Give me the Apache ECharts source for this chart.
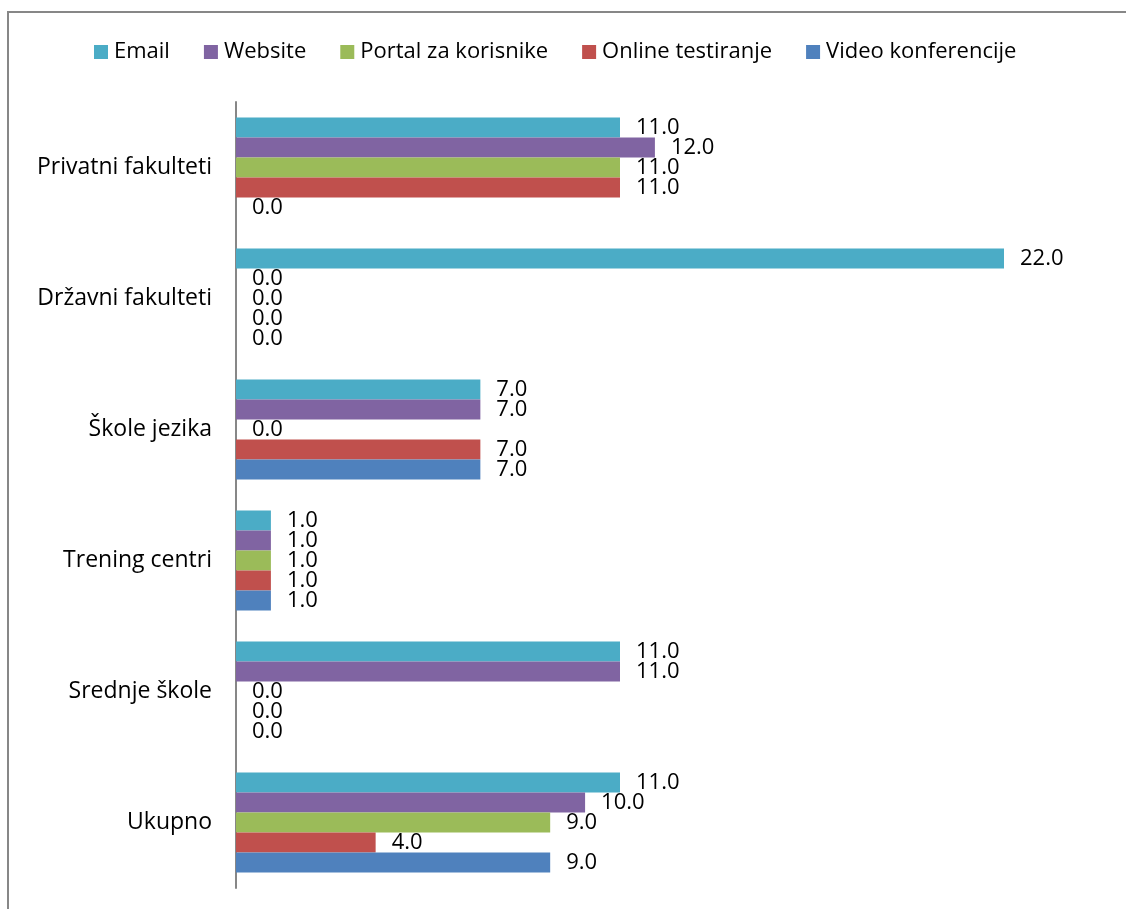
<!DOCTYPE html>
<html>
<head>
<meta charset="utf-8">
<script src="https://cdn.jsdelivr.net/npm/echarts@6/dist/echarts.min.js"></script>
<style>
  body { margin: 0; background: #fff; }
  #chart { width: 1126px; height: 909px; }
</style>
</head>
<body>
<div id="chart"></div>
<script>
var categories = ['Privatni fakulteti', 'Državni fakulteti', 'Škole jezika', 'Trening centri', 'Srednje škole', 'Ukupno'];
var seriesNames = ['Email', 'Website', 'Portal za korisnike', 'Online testiranje', 'Video konferencije'];
var emailData = [11, 22, 7, 1, 11, 11];
var websiteData = [12, 0, 7, 1, 11, 10];
var portalData = [11, 0, 0, 1, 0, 9];
var onlineData = [11, 0, 7, 1, 0, 4];
var videoData = [0, 0, 7, 1, 0, 9];
var colors = ['#4BACC6', '#8064A2', '#9BBB59', '#C0504D', '#4F81BD'];

var font = '"Open Sans", sans-serif';
var allData = [emailData, websiteData, portalData, onlineData, videoData];

var chart = echarts.init(document.getElementById('chart'));

var series = [];
for (var i = 0; i < seriesNames.length; i++) {
    series.push({
        name: seriesNames[i],
        type: 'bar',
        data: allData[i],
        barGap: '0%',
        barCategoryGap: '23.7%',
        itemStyle: { color: colors[i] },
        label: {
            show: true,
            position: 'right',
            distance: 16,
            color: '#000',
            fontFamily: font,
            fontSize: 22,
            formatter: function (p) { return p.value.toFixed(1); }
        }
    });
}

chart.setOption({
    animation: false,
    color: colors,
    legend: {
        data: seriesNames,
        left: 89,
        top: 36,
        itemWidth: 14,
        itemHeight: 14,
        itemGap: 34,
        icon: 'rect',
        textStyle: { fontFamily: font, fontSize: 22, color: '#000', padding: [0, 0, 0, 1] }
    },
    grid: {
        left: 236,
        right: 122,
        top: 102,
        bottom: 21,
        containLabel: false
    },
    xAxis: {
        type: 'value',
        min: 0,
        max: 22,
        show: false
    },
    yAxis: {
        type: 'category',
        data: categories,
        inverse: true,
        axisLine: { show: true, lineStyle: { color: '#878787', width: 2 } },
        axisTick: { show: false },
        axisLabel: { color: '#000', fontFamily: font, fontSize: 23, margin: 24 }
    },
    graphic: [
        { type: 'line', shape: { x1: 8, y1: 12, x2: 1126, y2: 12 }, style: { stroke: '#878787', lineWidth: 2 } },
        { type: 'line', shape: { x1: 8, y1: 11, x2: 8, y2: 909 }, style: { stroke: '#878787', lineWidth: 2 } }
    ],
    series: series
});
</script>
</body>
</html>
